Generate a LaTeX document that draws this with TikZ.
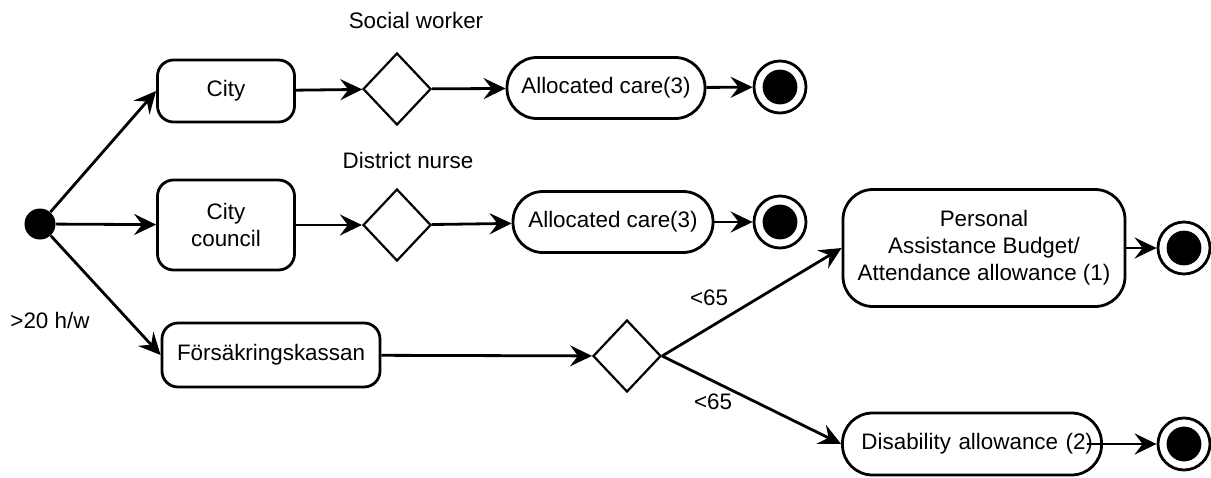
\documentclass[tikz,border=0pt]{standalone}
\usepackage{fontspec}
\setmainfont{Liberation Sans}
\usetikzlibrary{arrows.meta,shapes.geometric}

\tikzset{
	act/.style={draw, line width=1.4pt, rounded corners=8pt, align=center, inner sep=2pt},
	careact/.style={act, rounded corners=15pt},
	decision/.style={diamond, draw, line width=1.1pt, inner sep=0pt, minimum width=34pt, minimum height=36pt},
	startnode/.style={circle, fill, inner sep=0pt, minimum size=15.5pt},
	endnode/.style={circle, draw, line width=1.4pt, inner sep=0pt, minimum size=26pt,
		path picture={\fill (path picture bounding box.center) circle (8.7pt);}},
	flow/.style={-{Stealth[length=11pt,width=10.5pt,inset=4pt]}, line width=1.4pt}
}

\begin{document}
\begin{tikzpicture}[x=0.5pt, y=-0.5pt, font=\fontsize{11.2}{13.5}\selectfont]
		\useasboundingbox (0,0) rectangle (1211,477);
		%Knoten
		\node[startnode] (start) at (40,224) {};
		\node[act, minimum width=68.5pt, minimum height=31pt] (city) at (226,91) {City};
		\node[act, minimum width=68.5pt, minimum height=45pt] (council) at (226,225) {City\\council};
		\node[act, minimum width=109pt, minimum height=32pt] (fk) at (271,355) {Försäkringskassan};
		\node[decision] (dsw) at (397,89) {};
		\node[decision] (ddn) at (397,225) {};
		\node[decision] (dfk) at (627,356) {};
		\node[careact, minimum width=99pt, minimum height=30.5pt] (care1) at (606,88) {Allocated care(3)};
		\node[careact, minimum width=100pt, minimum height=30.5pt] (care2) at (613,222) {Allocated care(3)};
		\node[careact, minimum width=141pt, minimum height=58.5pt] (pab) at (984,248) {Personal\\Assistance Budget/\\Attendance allowance (1)};
		\node[careact, minimum width=129.5pt, minimum height=31pt, text width=121pt, align=right] (dis) at (972,444) {Disability allowance (2)};
		\node[endnode] (end1) at (780,87) {};
		\node[endnode] (end2) at (780,222) {};
		\node[endnode] (end3) at (1184,248) {};
		\node[endnode] (end4) at (1184,444) {};
		%Beschriftungen
		\node (sw) at (416,20) {Social worker};
		\node (dn) at (408,160) {District nurse};
		\node (hw) at (50,320) {>20 h/w};
		\node (age1) at (709,298) {<65};
		\node (age2) at (713,402) {<65};
		%Pfeile
		\draw[flow] (start) -- (city.west);
		\draw[flow] (start) -- (council);
		\draw[flow] (start) -- (fk.west);
		\draw[flow] (city) -- (dsw);
		\draw[flow] (council) -- (ddn);
		\draw[flow] (dsw) -- (care1);
		\draw[flow] (ddn) -- (care2);
		\draw[flow] (care1) -- (end1);
		\draw[flow] (care2) -- (end2);
		\draw[flow] (fk) -- (dfk);
		\draw[flow] (dfk.east) -- (pab.west);
		\draw[flow] (dfk.east) -- (dis.west);
		\draw[flow] (pab) -- (end3);
		\draw[flow] ([xshift=-8pt]dis.east) -- (end4);
	\end{tikzpicture}
\end{document}
